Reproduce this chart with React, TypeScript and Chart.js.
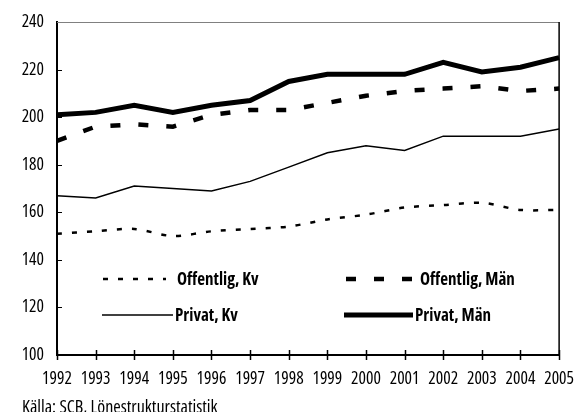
import React, { useEffect, useRef } from "react";
import { Chart, registerables } from "chart.js";

Chart.register(...registerables);

const years = ["1992", "1993", "1994", "1995", "1996", "1997", "1998", "1999", "2000", "2001", "2002", "2003", "2004", "2005"];
const offentligKv = [151, 152, 153, 150, 152, 153, 154, 157, 159, 162, 163, 164, 161, 161];
const offentligMan = [190, 196, 197, 196, 201, 203, 203, 206, 209, 211, 212, 213, 211, 212];
const privatKv = [167, 166, 171, 170, 169, 173, 179, 185, 188, 186, 192, 192, 192, 195];
const privatMan = [201, 202, 205, 202, 205, 207, 215, 218, 218, 218, 223, 219, 221, 225];
const seriesNames = ["Offentlig, Kv", "Offentlig, Män", "Privat, Kv", "Privat, Män"];
const yMin = 100;
const yMax = 240;
const yStep = 20;
const sourceText = "Källa: SCB, Lönestrukturstatistik";

const FONT = "'Open Sans', Roboto, sans-serif";

const legendLayout = [
  { ds: 0, x1: 103, x2: 166, tx: 177, y: 279 },
  { ds: 1, x1: 346, x2: 413, tx: 420, y: 279 },
  { ds: 2, x1: 102, x2: 173, tx: 175, y: 315 },
  { ds: 3, x1: 344, x2: 413, tx: 415, y: 315 },
];

const decorPlugin = {
  id: "decor",
  afterDraw(chart: any) {
    const { ctx, chartArea, scales } = chart;
    const { left, right, top, bottom } = chartArea;
    ctx.save();
    ctx.strokeStyle = "#808080";
    ctx.lineWidth = 1;
    ctx.setLineDash([]);
    ctx.beginPath();
    ctx.moveTo(left, top + 0.5);
    ctx.lineTo(right, top + 0.5);
    ctx.stroke();
    ctx.strokeStyle = "#000";
    ctx.lineWidth = 1.5;
    ctx.beginPath();
    ctx.moveTo(right, top);
    ctx.lineTo(right, bottom);
    ctx.stroke();
    const x = scales.x;
    for (let i = 0; i < years.length; i++) {
      const px = Math.round(x.getPixelForValue(i)) + 0.5;
      ctx.beginPath();
      ctx.moveTo(px, bottom - 5);
      ctx.lineTo(px, bottom + 5);
      ctx.stroke();
    }
    const y = scales.y;
    ctx.lineWidth = 1;
    for (let v = yMin + yStep; v < yMax; v += yStep) {
      const py = Math.round(y.getPixelForValue(v)) + 0.5;
      ctx.beginPath();
      ctx.moveTo(left, py);
      ctx.lineTo(left + 5, py);
      ctx.stroke();
    }
    ctx.font = `bold condensed 17px ${FONT}`;
    ctx.fillStyle = "#000";
    ctx.textBaseline = "middle";
    ctx.textAlign = "left";
    for (const item of legendLayout) {
      const ds = chart.data.datasets[item.ds];
      ctx.strokeStyle = "#000";
      ctx.lineWidth = ds.borderWidth;
      ctx.setLineDash(ds.borderDash || []);
      ctx.lineCap = "butt";
      ctx.beginPath();
      ctx.moveTo(item.x1, item.y);
      ctx.lineTo(item.x2, item.y);
      ctx.stroke();
      ctx.setLineDash([]);
      ctx.fillText(ds.label, item.tx, item.y + 1);
    }
    ctx.font = `500 condensed 18px ${FONT}`;
    ctx.textBaseline = "alphabetic";
    ctx.fillText(sourceText, 22, 413);
    ctx.restore();
  },
};

export default function App() {
  const ref = useRef<HTMLCanvasElement | null>(null);
  useEffect(() => {
    if (!ref.current) return;
    const tickFont = { family: FONT, size: 17.5, weight: "500 condensed" };
    const chart = new Chart(ref.current, {
      type: "line",
      data: {
        labels: years,
        datasets: [
          {
            label: seriesNames[0],
            data: offentligKv,
            borderColor: "#000",
            borderWidth: 2.5,
            borderDash: [5, 10],
            pointRadius: 0,
            tension: 0.3,
            fill: false,
          },
          {
            label: seriesNames[1],
            data: offentligMan,
            borderColor: "#000",
            borderWidth: 4.5,
            borderDash: [10, 18],
            pointRadius: 0,
            tension: 0,
            fill: false,
          },
          {
            label: seriesNames[2],
            data: privatKv,
            borderColor: "#000",
            borderWidth: 1.5,
            pointRadius: 0,
            tension: 0,
            fill: false,
          },
          {
            label: seriesNames[3],
            data: privatMan,
            borderColor: "#000",
            borderWidth: 5,
            pointRadius: 0,
            tension: 0,
            fill: false,
          },
        ],
      },
      options: {
        responsive: false,
        animation: false,
        layout: { padding: { left: 0, right: 0, top: 22, bottom: 0 } },
        plugins: { legend: { display: false }, tooltip: { enabled: false } },
        scales: {
          x: {
            offset: false,
            grid: { display: false, drawTicks: true, tickLength: 14 },
            border: { display: true, color: "#000", width: 2 },
            ticks: { color: "#000", font: tickFont, padding: 0, maxRotation: 0, autoSkip: false },
            afterFit: (s: any) => {
              s.height = 57;
            },
          },
          y: {
            min: yMin,
            max: yMax,
            grid: { display: false, drawTicks: true, tickLength: 13 },
            border: { display: true, color: "#000", width: 2 },
            ticks: { stepSize: yStep, color: "#000", font: tickFont, padding: 0 },
            afterFit: (s: any) => {
              s.width = 57;
            },
          },
        },
      },
      plugins: [decorPlugin],
    });
    return () => chart.destroy();
  }, []);
  return (
    <div style={{ position: "absolute", left: 0, top: 0, width: 574, height: 412, background: "#fff" }}>
      <canvas ref={ref} width={574} height={412} style={{ display: "block" }} />
    </div>
  );
}
